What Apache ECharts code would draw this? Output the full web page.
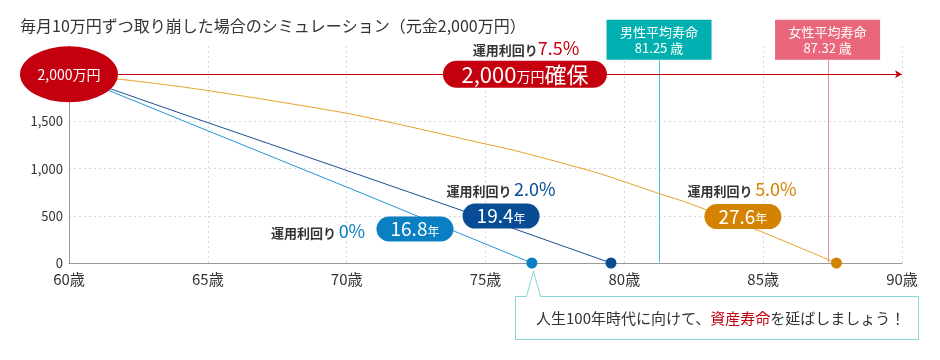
<!DOCTYPE html>
<html><head><meta charset="utf-8">
<script src="https://cdn.jsdelivr.net/npm/echarts@6/dist/echarts.min.js"></script>
<style>html,body{margin:0;padding:0;background:#fff}#c{width:940px;height:360px}</style>
</head><body><div id="c"></div>
<script>
const FONT = '"Noto Sans CJK JP","Noto Sans",sans-serif';

// ---- data ----
const title = '毎月10万円ずつ取り崩した場合のシミュレーション（元金2,000万円）';
const ageTicks = [60, 65, 70, 75, 80, 85, 90];
const amountTicks = [0, 500, 1000, 1500];
const principal = 2000;
const rate0Ages = [60, 64.36, 70, 76.67];
const rate0Values = [2000, 1478, 805, 0];
const rate2Ages = [60, 64.36, 69.4, 75, 79.52];
const rate2Values = [2000, 1552, 1042, 470, 0];
const rate5Ages = [60, 62, 64.36, 67, 70, 72, 74.8, 76, 78, 79.12, 81.25, 82.36, 84.94, 87.64];
const rate5Values = [2000, 1942, 1855, 1735, 1587, 1462, 1275, 1196, 1040, 947, 736, 630, 331, 0];
const rateLabels = ['0%', '2.0%', '5.0%', '7.5%'];
const yearsLabels = ['16.8', '19.4', '27.6'];
const maleLife = 81.25;
const femaleLife = 87.32;

const C0 = '#2596d6', C0d = '#0a80c2';
const C2 = '#1d4f95', C2d = '#074c94';
const C5 = '#e7a12c', C5d = '#d48300';
const RED = '#c4000f';
const TEAL = '#00b0b0', PINK = '#e9667b';

function zip(a, b) { return a.map((v, i) => [v, b[i]]); }
function withEnd(pts, color) {
  return pts.map((p, i) => i === pts.length - 1
    ? { value: p, symbol: 'circle', symbolSize: 11, itemStyle: { color: color } }
    : { value: p, symbol: 'none' });
}

function rateText(x, y, pct, color, sep) {
  return { value: [x, y], label: { show: true, position: 'inside',
    formatter: '{a|運用利回り}' + sep + '{p|' + pct + '}',
    rich: { a: { fontSize: 13, color: '#333', fontWeight: 'bold', fontFamily: FONT, lineHeight: 22, padding: [3, 0, 0, 0] },
            p: { fontSize: 18, color: color, fontFamily: FONT, lineHeight: 22 } } } };
}
function pill(x, y, num, color) {
  return { value: [x, y], label: { show: true, position: 'inside',
    formatter: '{n|' + num + '}{u|年}', backgroundColor: color, borderRadius: 13,
    width: 77, height: 25, align: 'center', verticalAlign: 'middle',
    rich: { n: { fontSize: 19, color: '#fff', fontFamily: FONT, lineHeight: 25 },
            u: { fontSize: 12, color: '#fff', fontFamily: FONT, lineHeight: 25, padding: [4, 0, 0, 0] } } } };
}
function lifeBox(x, y, name, val, color) {
  return { value: [x, y], label: { show: true, position: 'top', distance: 0,
    formatter: name + '\n' + val + ' 歳', backgroundColor: color, color: '#fff',
    fontSize: 13, fontFamily: FONT, lineHeight: 16, width: 105, padding: [4, 0], align: 'center' } };
}

const chart = echarts.init(document.getElementById('c'));
const option = {
  animation: false,
  textStyle: { fontFamily: FONT },
  title: { text: title, left: 20, top: 18, padding: 0,
    textStyle: { fontSize: 16, fontWeight: 'normal', color: '#333', fontFamily: FONT } },
  grid: { left: 69, right: 38, top: 46, bottom: 97 },
  xAxis: { type: 'value', min: 60, max: 90, interval: 5,
    axisLine: { lineStyle: { color: '#999', width: 1 } }, axisTick: { show: false },
    axisLabel: { formatter: v => ageTicks.includes(v) ? v + '歳' : '', fontSize: 15, color: '#333', margin: 9, fontFamily: FONT },
    splitLine: { show: true, showMinLine: false, lineStyle: { color: '#d8d8d8', type: [2, 3] } } },
  yAxis: { type: 'value', min: 0, max: 2300, interval: 500,
    axisLine: { show: true, lineStyle: { color: '#999', width: 1 } }, axisTick: { show: false },
    axisLabel: { formatter: v => amountTicks.includes(v) ? v.toLocaleString('en-US') : '', fontSize: 13, color: '#333', margin: 6, fontFamily: FONT },
    splitLine: { show: true, showMaxLine: false, lineStyle: { color: '#d8d8d8', type: [2, 3] } } },
  series: [
    { type: 'line', name: '0%', z: 3, data: withEnd(zip(rate0Ages, rate0Values), C0d),
      lineStyle: { color: C0, width: 1 }, itemStyle: { color: C0d }, silent: true,
      markLine: { silent: true, symbol: ['none', 'arrow'], symbolSize: [6, 7], label: { show: false },
        data: [
          [{ coord: [60, principal], symbol: 'none' }, { coord: [90, principal] }]
        ], lineStyle: { color: RED, width: 1, type: 'solid' } } },
    { type: 'line', name: '2.0%', z: 3, data: withEnd(zip(rate2Ages, rate2Values), C2d),
      lineStyle: { color: C2, width: 1 }, itemStyle: { color: C2d }, silent: true },
    { type: 'line', name: '5.0%', z: 3, data: withEnd(zip(rate5Ages, rate5Values), C5d), smooth: 0.3,
      lineStyle: { color: C5, width: 1 }, itemStyle: { color: C5d }, silent: true },
    { type: 'scatter', z: 10, silent: true, symbolSize: 1, itemStyle: { color: 'rgba(0,0,0,0)', opacity: 1 },
      emphasis: { disabled: true },
      data: [
        { value: [60, principal], symbol: 'circle', symbolSize: [98, 56], itemStyle: { color: RED, opacity: 1 },
          label: { show: true, position: 'inside', formatter: '2,000万円', color: '#fff', fontSize: 14, fontFamily: FONT } },
        { value: [76.42, principal], label: { show: true, position: 'inside',
          formatter: '{n|2,000}{u|万円}{n|確保}', backgroundColor: RED, borderRadius: 14,
          width: 164, height: 27, align: 'center',
          rich: { n: { fontSize: 22, color: '#fff', fontFamily: FONT, lineHeight: 27 },
                  u: { fontSize: 14, color: '#fff', fontFamily: FONT, lineHeight: 27, padding: [5, 0, 0, 0] } } } },
        rateText(76.46, 2272, rateLabels[3], RED, ''),
        rateText(68.97, 338, rateLabels[0], C0d, ' '),
        rateText(75.56, 783, rateLabels[1], C2d, ' '),
        rateText(84.24, 783, rateLabels[2], C5d, ' '),
        pill(72.46, 360, yearsLabels[0], C0d),
        pill(75.56, 497, yearsLabels[1], C2d),
        pill(84.27, 492, yearsLabels[2], C5d),
        lifeBox(maleLife, 2148, '男性平均寿命', maleLife.toFixed(2), TEAL),
        lifeBox(femaleLife, 2148, '女性平均寿命', femaleLife.toFixed(2), PINK)
      ] }
  ]
};
chart.setOption(option);

// life-expectancy guide lines, placed through the chart's own scales
function vline(age, color) {
  const p0 = chart.convertToPixel({ gridIndex: 0 }, [age, 0]);
  const p1 = chart.convertToPixel({ gridIndex: 0 }, [age, 2148]);
  const x = Math.round(p0[0]) + 0.5;
  return { type: 'line', silent: true, z: 2,
    shape: { x1: x, y1: p1[1], x2: x, y2: p0[1] - 0.5 },
    style: { stroke: color, lineWidth: 1 } };
}

// callout pointing at the 0% depletion point
const tip = chart.convertToPixel({ gridIndex: 0 }, [rate0Ages[rate0Ages.length - 1], 0]);
const ax = Math.round(tip[0]) + 1.5;
const boxTop = 296.5, boxBot = 339.5, boxL = 515.5, boxR = 918.5;
chart.setOption({
  graphic: [
    vline(maleLife, '#40c8c8'),
    vline(femaleLife, '#f28b9c'),
    { type: 'polygon', silent: true, z: 20,
      shape: { points: [[boxL, boxTop], [ax - 7, boxTop], [ax, tip[1] + 8], [ax + 7, boxTop], [boxR, boxTop], [boxR, boxBot], [boxL, boxBot]] },
      style: { fill: '#fff', stroke: '#86d6d6', lineWidth: 1 } },
    { type: 'text', silent: true, z: 21, x: 536, y: 318,
      style: { text: '人生100年時代に向けて、{r|資産寿命}を延ばしましょう！', font: '15px ' + FONT, fill: '#333',
        verticalAlign: 'middle', rich: { r: { fill: RED, font: '15px ' + FONT } } } }
  ]
});
</script></body></html>
